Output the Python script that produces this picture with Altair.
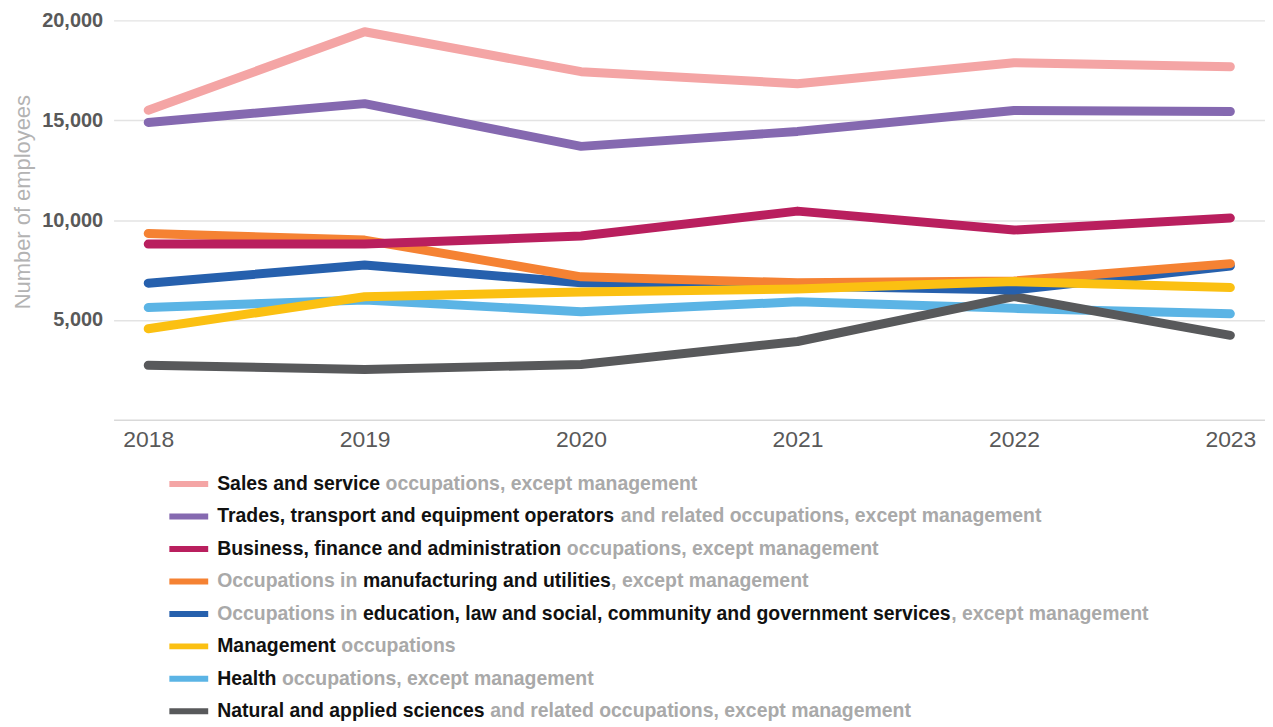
import altair as alt
import pandas as pd

years = [2018, 2019, 2020, 2021, 2022, 2023]

series_names = [
    "Sales and service",
    "Trades, transport and equipment operators",
    "Business, finance and administration",
    "Manufacturing and utilities",
    "Education, law and social, community and government services",
    "Management",
    "Health",
    "Natural and applied sciences",
]
series_colors = ["#F4A5A5", "#8569B0", "#B91F5E", "#F58233", "#2660AD", "#FBC012", "#5BB4E5", "#58595B"]

sales = [15500, 19430, 17430, 16830, 17880, 17680]
trades = [14890, 15830, 13690, 14440, 15490, 15440]
business = [8800, 8800, 9200, 10450, 9500, 10100]
manufacturing = [9330, 9000, 7160, 6860, 6950, 7820]
education = [6840, 7750, 6860, 6700, 6500, 7700]
management = [4560, 6160, 6400, 6550, 6920, 6620]
health = [5620, 6000, 5410, 5910, 5580, 5310]
sciences = [2730, 2520, 2770, 3920, 6170, 4230]

all_values = [sales, trades, business, manufacturing, education, management, health, sciences]

# drawing order (bottom -> top)
draw_order = [6, 7, 4, 3, 2, 5, 1, 0]

# legend text segments: (text, is_bold)
legend_segments = [
    [("Sales and service", True), ("occupations, except management", False)],
    [("Trades, transport and equipment operators", True), ("and related occupations, except management", False)],
    [("Business, finance and administration", True), ("occupations, except management", False)],
    [("Occupations in", False), ("manufacturing and utilities", True), (", except management", False)],
    [("Occupations in", False), ("education, law and social, community and government services", True), (", except management", False)],
    [("Management", True), ("occupations", False)],
    [("Health", True), ("occupations, except management", False)],
    [("Natural and applied sciences", True), ("and related occupations, except management", False)],
]

FONT = "Liberation Sans, Arial, sans-serif"
LEG_SIZE = 19.5

# Liberation Sans Bold (Arial-compatible) advance widths, per 1000 em, for text layout
_W = {" ": 278, ",": 278, ".": 278, "-": 333,
      "a": 556, "b": 611, "c": 556, "d": 611, "e": 556, "f": 333, "g": 611, "h": 611, "i": 278,
      "j": 278, "k": 556, "l": 278, "m": 889, "n": 611, "o": 611, "p": 611, "q": 611, "r": 389,
      "s": 556, "t": 333, "u": 611, "v": 556, "w": 778, "x": 556, "y": 556, "z": 500,
      "A": 722, "B": 722, "C": 722, "D": 722, "E": 667, "F": 611, "G": 778, "H": 722, "I": 278,
      "J": 556, "K": 722, "L": 611, "M": 833, "N": 722, "O": 778, "P": 667, "Q": 778, "R": 722,
      "S": 667, "T": 611, "U": 722, "V": 667, "W": 944, "X": 667, "Y": 667, "Z": 611}


def text_width(s, size):
    return sum(_W.get(ch, 556) for ch in s) * size / 1000.0


rows = []
for name, vals in zip(series_names, all_values):
    for y, v in zip(years, vals):
        rows.append({"year": y, "series": name, "value": v})
df = pd.DataFrame(rows)

color_scale = alt.Scale(domain=series_names, range=series_colors)

x_enc = alt.X("year:O", scale=alt.Scale(type="point", padding=0.16),
              axis=alt.Axis(title=None, labelAngle=0, ticks=False, domainColor="#d9d9d9",
                            domainWidth=1.5, labelFont=FONT, labelFontSize=23,
                            labelColor="#595959", labelPadding=9, grid=False))
y_enc = alt.Y("value:Q", scale=alt.Scale(domain=[0, 20000]),
              axis=alt.Axis(title="Number of employees", values=[5000, 10000, 15000, 20000],
                            format=",.0f", ticks=False, domain=False, gridColor="#e3e3e3",
                            gridWidth=1.5, labelFont=FONT, labelFontWeight="bold",
                            labelFontSize=20, labelColor="#595959", labelPadding=11,
                            titleFont=FONT, titleFontWeight="normal", titleFontSize=22,
                            titleColor="#b3b3b3", titleX=-91, titleY=182, titleAngle=-90,
                            titleAlign="center", titleBaseline="middle"))

layers = []
for i in draw_order:
    layers.append(
        alt.Chart(df).transform_filter(alt.datum.series == series_names[i]).mark_line(
            strokeWidth=9, strokeCap="round", strokeJoin="round"
        ).encode(
            x=x_enc,
            y=y_enc,
            color=alt.Color("series:N", scale=color_scale, legend=None),
        )
    )

# legend (laid out below the plot)
ROW0 = 465.5
ROW_STEP = 32.6
TEXT_X0 = 104
sw_rows = []
txt_rows = []
for r, segs in enumerate(legend_segments):
    sw_rows.append({"row": r, "series": series_names[r], "x0": 56, "x1": 95})
    xpos = TEXT_X0
    for k, (t, bold) in enumerate(segs):
        if k > 0 and not t.startswith(","):
            xpos += text_width(" ", LEG_SIZE)
        txt_rows.append({"row": r, "text": t, "x": xpos, "tone": "#111111" if bold else "#a9a9a9"})
        xpos += text_width(t, LEG_SIZE)
sw_df = pd.DataFrame(sw_rows)
txt_df = pd.DataFrame(txt_rows)

swatches = alt.Chart(sw_df).transform_calculate(
    ypos=f"{ROW0} + datum.row * {ROW_STEP}"
).mark_rule(strokeWidth=6).encode(
    x=alt.X("x0:Q", scale=None),
    x2="x1:Q",
    y=alt.Y("ypos:Q", scale=None),
    color=alt.Color("series:N", scale=color_scale, legend=None),
)

texts = alt.Chart(txt_df).transform_calculate(
    ypos=f"{ROW0} + datum.row * {ROW_STEP}"
).mark_text(align="left", baseline="middle", font=FONT, fontWeight="bold", fontSize=LEG_SIZE).encode(
    x=alt.X("x:Q", scale=None),
    y=alt.Y("ypos:Q", scale=None),
    text="text:N",
    color=alt.Color("tone:N", scale=None),
)

chart = alt.layer(*layers, swatches, texts).properties(
    width=1156,
    height=401,
    autosize=alt.AutoSizeParams(type="none"),
    padding={"left": 106, "top": 11, "right": 0, "bottom": 305},
).configure(
    background="white"
).configure_view(
    strokeWidth=0
).configure_axisY(
    domain=False
)

chart.save("out.html", embed_options={"renderer": "svg", "actions": False})
